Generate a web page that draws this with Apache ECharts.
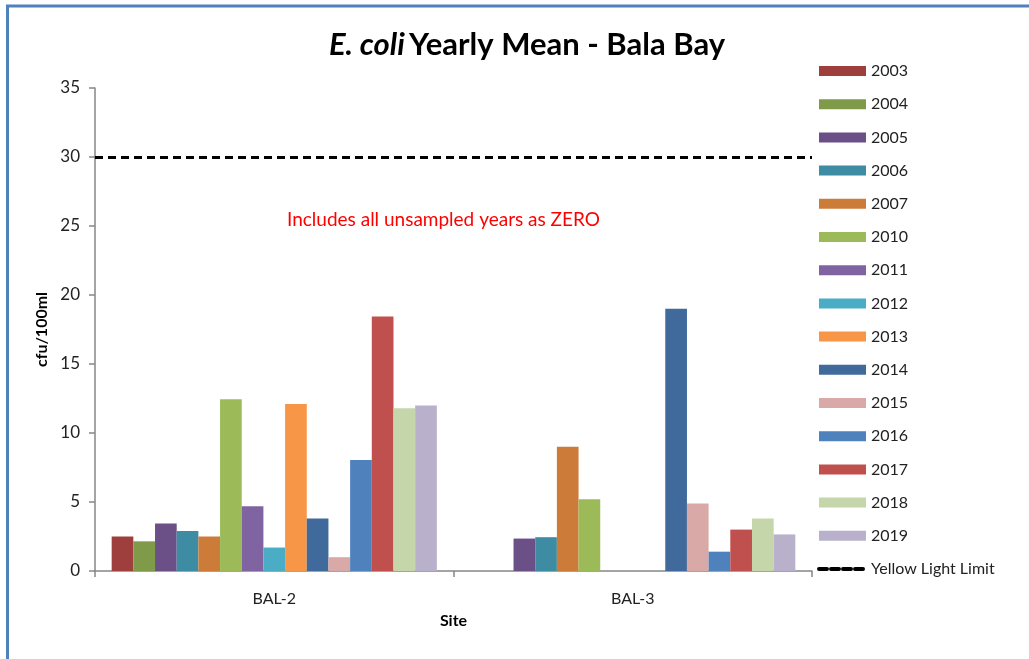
<!DOCTYPE html>
<html>
<head>
<meta charset="utf-8">
<script src="https://cdn.jsdelivr.net/npm/echarts@6/dist/echarts.min.js"></script>
<style>
html,body{margin:0;padding:0;background:#fff;}
#chart{width:1029px;height:659px;}
</style>
</head>
<body>
<div id="chart"></div>
<script>
const sites = ['BAL-2', 'BAL-3'];
const years = ['2003','2004','2005','2006','2007','2010','2011','2012','2013','2014','2015','2016','2017','2018','2019'];
const bal2 = [2.5, 2.15, 3.45, 2.9, 2.5, 12.45, 4.7, 1.7, 12.1, 3.8, 1.0, 8.05, 18.45, 11.8, 12.0];
const bal3 = [0, 0, 2.35, 2.45, 9.0, 5.2, 0, 0, 0, 19.0, 4.9, 1.4, 3.0, 3.8, 2.65];
const yearColors = ['#9f3f3d','#7f9a48','#6a5087','#3d8ca3','#cc7b38','#9cbb58','#8064a2','#4bacc6','#f79646','#3f6a9b','#d9a9a8','#4f81bd','#c0504d','#c5d6aa','#b9b0cb'];
const limitName = 'Yellow Light Limit';
const limitValue = 30;
const yTicks = {min: 0, max: 35, interval: 5};

const FONT = 'Lato, "Open Sans", sans-serif';

const series = years.map((y, i) => ({
  name: y,
  type: 'bar',
  data: [bal2[i], bal3[i]],
  itemStyle: {color: yearColors[i]},
  barGap: '0%',
  barCategoryGap: '9.3%'
}));
series.push({
  name: limitName,
  type: 'line',
  data: [],
  symbol: 'none',
  itemStyle: {color: '#000'},
  lineStyle: {color: '#000', width: 4, type: [8, 4], cap: 'round'},
  markLine: {
    silent: true,
    symbol: ['none', 'none'],
    label: {show: false},
    lineStyle: {color: '#000', width: 3, type: [8, 5]},
    data: [{yAxis: limitValue}]
  }
});

const chart = echarts.init(document.getElementById('chart'), null, {renderer: 'canvas'});
chart.setOption({
  animation: false,
  backgroundColor: '#fff',
  textStyle: {fontFamily: FONT},
  title: {
    text: '{i|E. coli} {b|Yearly Mean - Bala Bay}',
    left: 522,
    textAlign: 'center',
    top: 24,
    textStyle: {
      rich: {
        i: {fontFamily: FONT, fontSize: 31, fontWeight: 'bold', fontStyle: 'italic', color: '#000'},
        b: {fontFamily: FONT, fontSize: 31, fontWeight: 'bold', color: '#000'}
      }
    }
  },
  graphic: [
    {type: 'line', shape: {x1: 7.5, y1: 6, x2: 7.5, y2: 659}, style: {stroke: '#4f81bd', lineWidth: 3}},
    {type: 'line', shape: {x1: 6, y1: 6, x2: 1029, y2: 6}, style: {stroke: '#4f81bd', lineWidth: 3}},
    {type: 'text', left: 287, top: 210, style: {text: 'Includes all unsampled years as ZERO', fill: '#ff0000', font: '19px ' + FONT}}
  ],
  legend: {
    orient: 'vertical',
    left: 817,
    top: 63,
    padding: 0,
    itemWidth: 47,
    itemHeight: 10,
    itemGap: 17.2,
    textStyle: {fontFamily: FONT, fontSize: 16, color: '#222', lineHeight: 14},
    data: years.map(y => ({name: y, icon: 'rect'})).concat([{name: limitName, itemStyle: {color: 'rgba(0,0,0,0)', borderWidth: 0, opacity: 0}, lineStyle: {width: 4, type: [8, 4], cap: 'round', color: '#000'}}])
  },
  grid: {left: 95, right: 217, top: 88, bottom: 88, containLabel: false},
  xAxis: {
    type: 'category',
    data: sites,
    name: 'Site',
    nameLocation: 'middle',
    nameGap: 42,
    nameTextStyle: {fontFamily: FONT, fontSize: 16, fontWeight: 'bold', color: '#000'},
    axisLine: {lineStyle: {color: '#868686', width: 1.5}},
    axisTick: {show: true, length: 6, lineStyle: {color: '#868686', width: 1.5}},
    axisLabel: {fontFamily: FONT, fontSize: 16, color: '#222', margin: 20}
  },
  yAxis: {
    type: 'value',
    min: yTicks.min,
    max: yTicks.max,
    interval: yTicks.interval,
    name: 'cfu/100ml',
    nameLocation: 'middle',
    nameGap: 44,
    nameTextStyle: {fontFamily: FONT, fontSize: 16, fontWeight: 'bold', color: '#000'},
    axisLine: {show: true, lineStyle: {color: '#868686', width: 1.5}},
    axisTick: {show: true, length: 6, lineStyle: {color: '#868686', width: 1.5}},
    axisLabel: {fontFamily: FONT, fontSize: 17, color: '#222', margin: 15},
    splitLine: {show: false}
  },
  series: series
});
</script>
</body>
</html>
